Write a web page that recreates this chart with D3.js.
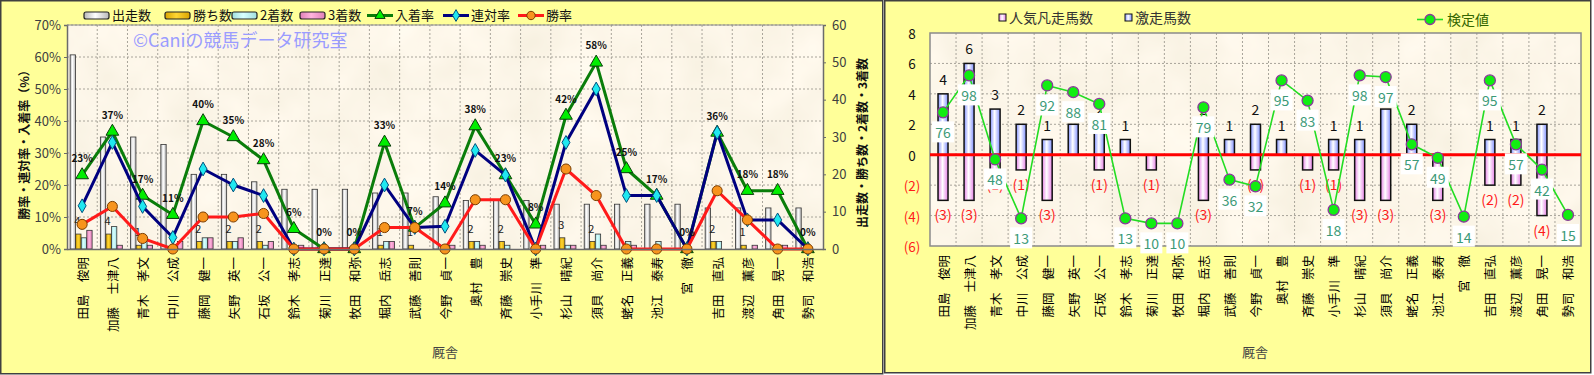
<!DOCTYPE html>
<html>
<head>
<meta charset="utf-8">
<script src="https://cdn.jsdelivr.net/npm/d3@7"></script>
<style>
	body { margin: 0; background: #fff; }
	svg text { font-family: "Noto Sans CJK JP", "Noto Sans", sans-serif; }
</style>
</head>
<body>
<div id="vizHolder"></div>
<script>
var trainers = ['田島　俊明','加藤　士津八','青木　孝文','中川　公成','藤岡　健一','矢野　英一','石坂　公一','鈴木　孝志','菊川　正達','牧田　和弥','堀内　岳志','武藤　善則','今野　貞一','奥村　豊','斉藤　崇史','小手川　準','杉山　晴紀','須貝　尚介','蛯名　正義','池江　泰寿','宮　徹','吉田　直弘','渡辺　薫彦','角田　晃一','勢司　和浩'];

// left chart: counts (right axis)
var starts  = [52,30,30,28,20,20,18,16,16,16,15,15,14,13,13,13,12,12,12,12,12,11,11,11,11];
var wins    = [4,4,1,0,2,2,2,0,0,0,1,1,0,2,2,0,3,2,0,0,0,2,1,0,0];
var seconds = [3,6,3,1,3,2,1,0,0,0,2,0,1,2,1,0,1,4,2,2,0,2,0,1,0];
var thirds  = [5,1,1,2,3,3,2,1,0,0,2,0,1,1,0,1,1,1,1,0,0,0,1,1,0];

// left chart: rates in % (left axis)
var winRate    = [7.7,13.3,3.3,0,10,10,11.1,0,0,0,6.7,6.7,0,15.4,15.4,0,25,16.7,0,0,0,18.2,9.1,0,0];
var rentaiRate = [13.5,33.3,13.3,3.6,25,20,16.7,0,0,0,20,6.7,7.1,30.8,23.1,0,33.3,50,16.7,16.7,0,36.4,9.1,9.1,0];
var placeRate  = [23.1,36.7,16.7,10.7,40,35,27.8,6.3,0,0,33.3,6.7,14.3,38.4,23.1,7.7,41.7,58.3,25,16.7,0,36.4,18.2,18.2,0];
var rateTicks  = [0,10,20,30,40,50,60,70];
var countTicks = [0,10,20,30,40,50,60];

// right chart
var gekisou = [4,6,3,2,1,2,2,1,0,0,2,1,2,1,0,1,1,3,2,0,0,1,1,2,0];
var bonsou  = [3,3,1,1,3,0,1,0,1,0,3,0,1,0,1,1,3,3,0,3,0,2,2,4,0];
var kentei  = [76,98,48,13,92,88,81,13,10,10,79,36,32,95,83,18,98,97,57,49,14,95,57,42,15];
var diffTicks = [-6,-4,-2,0,2,4,6,8];

var svg = d3.select('#vizHolder').append('svg')
	.attr('width', 1594)
	.attr('height', 375);

var defs = svg.append('defs');

function grad(id, c1, c2) {
	var g = defs.append('linearGradient').attr('id', id)
		.attr('x1', 0).attr('x2', 1).attr('y1', 0).attr('y2', 0);
	g.append('stop').attr('offset', '0%').attr('stop-color', c1);
	g.append('stop').attr('offset', '45%').attr('stop-color', c2);
	g.append('stop').attr('offset', '100%').attr('stop-color', c1);
}
grad('gWhite', '#b8b8b8', '#ffffff');
grad('gGold', '#d9a400', '#ffd633');
grad('gCyan', '#9fdede', '#d8ffff');
grad('gPink', '#e07fb8', '#ffb3dd');
grad('gBlue', '#7f8fff', '#ffffff');
grad('gPinkR', '#e680e6', '#ffffff');

//parchment look of the plot areas
var paper = defs.append('filter').attr('id', 'paper')
	.attr('x', 0).attr('y', 0).attr('width', 1).attr('height', 1);
paper.append('feTurbulence').attr('type', 'fractalNoise')
	.attr('baseFrequency', '0.018').attr('numOctaves', 3).attr('seed', 7);
paper.append('feColorMatrix').attr('type', 'matrix')
	.attr('values', '0.12 0 0 0 0.915  0.12 0 0 0 0.86  0.16 0 0 0 0.73  0 0 0 0 1');

// panels
svg.append('rect').attr('x', 0.75).attr('y', 0.75).attr('width', 882).attr('height', 373)
	.attr('fill', '#ffff99').attr('stroke', '#404040').attr('stroke-width', 1.5);
svg.append('rect').attr('x', 884.75).attr('y', 0.75).attr('width', 706).attr('height', 372)
	.attr('fill', '#ffff99').attr('stroke', '#404040').attr('stroke-width', 1.5);

function catLabels(g, x, top) {
	g.selectAll('text.cat')
		.data(trainers)
		.enter()
		.append('text')
		.attr('class', 'cat')
		.attr('transform', function(d) {
			return 'translate(' + (x(d) + x.bandwidth() / 2) + ',' + top + ') rotate(-90)';
		})
		.attr('text-anchor', 'end')
		.attr('dominant-baseline', 'central')
		.attr('font-size', 12.5)
		.attr('fill', '#000')
		.text(function(d) { return d; });
}

/* ---------------- left chart ---------------- */
var L = { x0: 67, x1: 823, y0: 25, y1: 249 };
var xL = d3.scaleBand().domain(trainers).range([L.x0, L.x1]);
var yL = d3.scaleLinear().domain([0, 70]).range([L.y1, L.y0]);
var yC = d3.scaleLinear().domain([0, 60]).range([L.y1, L.y0]);
var keys = ['starts', 'wins', 'seconds', 'thirds'];
var xSub = d3.scaleBand().domain(keys).range([-12, 10]).paddingInner(0.04);
var cxL = function(i) { return xL(trainers[i]) + xL.bandwidth() / 2; };

var left = svg.append('g');

left.append('rect').attr('x', L.x0).attr('y', L.y0)
	.attr('width', L.x1 - L.x0).attr('height', L.y1 - L.y0)
	.attr('filter', 'url(#paper)');

// grid
left.append('g').selectAll('line')
	.data(rateTicks.slice(1))
	.enter().append('line')
	.attr('x1', L.x0).attr('x2', L.x1)
	.attr('y1', function(d) { return yL(d); }).attr('y2', function(d) { return yL(d); })
	.attr('stroke', '#a8a49a').attr('stroke-dasharray', '2,2');
left.append('g').selectAll('line')
	.data(trainers.slice(1))
	.enter().append('line')
	.attr('x1', function(d) { return xL(d); }).attr('x2', function(d) { return xL(d); })
	.attr('y1', L.y0).attr('y2', L.y1)
	.attr('stroke', '#a8a49a').attr('stroke-dasharray', '2,2');

left.append('text')
	.attr('x', 133).attr('y', 47)
	.attr('font-size', 18).attr('fill', '#9a9cff')
	.text('©Caniの競馬データ研究室');

// count bars
var series = { starts: starts, wins: wins, seconds: seconds, thirds: thirds };
var fills = { starts: 'url(#gWhite)', wins: 'url(#gGold)', seconds: 'url(#gCyan)', thirds: 'url(#gPink)' };
keys.forEach(function(k) {
	left.append('g').selectAll('rect')
		.data(series[k])
		.enter().append('rect')
		.attr('x', function(d, i) { return cxL(i) + xSub(k); })
		.attr('width', xSub.bandwidth())
		.attr('y', function(d) { return yC(d); })
		.attr('height', function(d) { return yC(0) - yC(d); })
		.attr('fill', fills[k])
		.attr('stroke', function(d) { return d > 0 ? '#333' : 'none'; })
		.attr('stroke-width', 0.8);
});

// win count labels
left.append('g').selectAll('text')
	.data(wins.map(function(d, i) { return { v: d, i: i }; }).filter(function(d) { return d.v > 0; }))
	.enter().append('text')
	.attr('x', function(d) { return cxL(d.i) + xSub('wins') + xSub.bandwidth() / 2 - 1; })
	.attr('y', function(d) { return yC(d.v) - 9; })
	.attr('text-anchor', 'middle')
	.attr('font-size', 11).attr('fill', '#222')
	.text(function(d) { return d.v; });

// rate lines
function rateSeries(vals, color, shape, fill, stroke, size) {
	var line = d3.line()
		.x(function(d, i) { return cxL(i); })
		.y(function(d) { return yL(d); });
	left.append('path').datum(vals)
		.attr('d', line).attr('fill', 'none')
		.attr('stroke', color).attr('stroke-width', 3)
		.attr('stroke-linejoin', 'round');
	left.append('g').selectAll('path')
		.data(vals)
		.enter().append('path')
		.attr('d', d3.symbol().type(shape).size(size))
		.attr('transform', function(d, i) { return 'translate(' + cxL(i) + ',' + yL(d) + ')'; })
		.attr('fill', fill).attr('stroke', stroke).attr('stroke-width', 1);
}
rateSeries(placeRate, '#0a7d0a', d3.symbolTriangle, '#00ee00', '#0b3d0b', 70);
rateSeries(rentaiRate, '#00007f', d3.symbolDiamond, '#20e8f0', '#00507f', 55);
rateSeries(winRate, '#ff1a1a', d3.symbolCircle, '#f7941d', '#7a3d00', 80);

left.append('g').selectAll('text')
	.data(placeRate)
	.enter().append('text')
	.attr('x', function(d, i) { return cxL(i); })
	.attr('y', function(d) { return yL(d) - 13; })
	.attr('text-anchor', 'middle')
	.attr('font-size', 10).attr('font-weight', 'bold').attr('fill', '#111')
	.text(function(d) { return Math.round(d) + '%'; });

// axes
var axL = left.append('g').attr('transform', 'translate(' + L.x0 + ',0)')
	.call(d3.axisLeft(yL).tickValues(rateTicks).tickSize(3).tickFormat(function(d) { return d + '%'; }));
var axR = left.append('g').attr('transform', 'translate(' + L.x1 + ',0)')
	.call(d3.axisRight(yC).tickValues(countTicks).tickSize(3).tickPadding(6));
var axB = left.append('g').attr('transform', 'translate(0,' + L.y1 + ')')
	.call(d3.axisBottom(xL).tickSize(0).tickFormat(''));
[axL, axR, axB].forEach(function(a) {
	a.select('.domain').attr('stroke', '#6b6b6b').attr('stroke-width', 1.5);
	a.selectAll('.tick line').attr('stroke', '#6b6b6b');
	a.selectAll('.tick text').attr('font-size', 13).attr('fill', '#404040')
		.attr('font-family', '"Noto Sans CJK JP", sans-serif');
});
left.append('line').attr('x1', L.x0).attr('x2', L.x1).attr('y1', L.y0).attr('y2', L.y0)
	.attr('stroke', '#8a8a8a');

catLabels(left, xL, 257);

left.append('text')
	.attr('transform', 'translate(23,142) rotate(-90)')
	.attr('text-anchor', 'middle').attr('dominant-baseline', 'central')
	.attr('font-size', 12).attr('font-weight', 'bold').attr('fill', '#111')
	.text('勝率・連対率・入着率（%）');
left.append('text')
	.attr('transform', 'translate(861,143) rotate(-90)')
	.attr('text-anchor', 'middle').attr('dominant-baseline', 'central')
	.attr('font-size', 12).attr('font-weight', 'bold').attr('fill', '#111')
	.text('出走数・勝ち数・2着数・3着数');
left.append('text')
	.attr('x', 445).attr('y', 357).attr('text-anchor', 'middle')
	.attr('font-size', 13).attr('fill', '#444').text('厩舎');

// left legend
var legL = left.append('g').attr('font-size', 13).attr('fill', '#111');
var barLeg = [
	{ name: '出走数', fill: 'url(#gWhite)', x: 84 },
	{ name: '勝ち数', fill: 'url(#gGold)', x: 165 },
	{ name: '2着数', fill: 'url(#gCyan)', x: 232 },
	{ name: '3着数', fill: 'url(#gPink)', x: 300 }
];
barLeg.forEach(function(b) {
	legL.append('rect').attr('x', b.x).attr('y', 12).attr('width', 25).attr('height', 7).attr('rx', 2)
		.attr('fill', b.fill).attr('stroke', '#222').attr('stroke-width', 1.2);
	legL.append('text').attr('x', b.x + 28).attr('y', 20).text(b.name);
});
var lineLeg = [
	{ name: '入着率', color: '#0a7d0a', shape: d3.symbolTriangle, fill: '#00ee00', stroke: '#0b3d0b', x: 367, size: 45 },
	{ name: '連対率', color: '#00007f', shape: d3.symbolDiamond, fill: '#20e8f0', stroke: '#00507f', x: 443, size: 40 },
	{ name: '勝率', color: '#ff1a1a', shape: d3.symbolCircle, fill: '#f7941d', stroke: '#7a3d00', x: 518, size: 55 }
];
lineLeg.forEach(function(b) {
	legL.append('line').attr('x1', b.x).attr('x2', b.x + 26).attr('y1', 15.5).attr('y2', 15.5)
		.attr('stroke', b.color).attr('stroke-width', 3);
	legL.append('path').attr('d', d3.symbol().type(b.shape).size(b.size))
		.attr('transform', 'translate(' + (b.x + 13) + ',15.5)')
		.attr('fill', b.fill).attr('stroke', b.stroke);
	legL.append('text').attr('x', b.x + 28).attr('y', 20).text(b.name);
});

/* ---------------- right chart ---------------- */
var R = { x0: 930, x1: 1581, y0: 33, y1: 246 };
var xR = d3.scaleBand().domain(trainers).range([R.x0, R.x1]);
var yR = d3.scaleLinear().domain([-6, 8]).range([R.y1, R.y0]);
var yK = d3.scaleLinear().domain([0, 100]).range([240.2, 72]);
var cxR = function(i) { return xR(trainers[i]) + xR.bandwidth() / 2; };
var bw = 10;

var right = svg.append('g');
right.append('rect').attr('x', R.x0).attr('y', R.y0)
	.attr('width', R.x1 - R.x0).attr('height', R.y1 - R.y0)
	.attr('filter', 'url(#paper)');
right.append('g').selectAll('line')
	.data(diffTicks.filter(function(d) { return d !== 0 && d !== -6 && d !== 8; }))
	.enter().append('line')
	.attr('x1', R.x0).attr('x2', R.x1)
	.attr('y1', function(d) { return yR(d); }).attr('y2', function(d) { return yR(d); })
	.attr('stroke', '#a8a49a').attr('stroke-dasharray', '2,2');
right.append('g').selectAll('line')
	.data(trainers.slice(1))
	.enter().append('line')
	.attr('x1', function(d) { return xR(d); }).attr('x2', function(d) { return xR(d); })
	.attr('y1', R.y0).attr('y2', R.y1)
	.attr('stroke', '#a8a49a').attr('stroke-dasharray', '2,2');
right.append('rect').attr('x', R.x0).attr('y', R.y0)
	.attr('width', R.x1 - R.x0).attr('height', R.y1 - R.y0)
	.attr('fill', 'none').attr('stroke', '#8a8a8a').attr('stroke-width', 1.5);

right.append('g').selectAll('rect')
	.data(gekisou)
	.enter().append('rect')
	.attr('x', function(d, i) { return cxR(i) - bw / 2; })
	.attr('width', bw)
	.attr('y', function(d) { return yR(d); })
	.attr('height', function(d) { return yR(0) - yR(d); })
	.attr('fill', 'url(#gBlue)')
	.attr('stroke', function(d) { return d > 0 ? '#111' : 'none'; })
	.attr('stroke-width', 1.5);
right.append('g').selectAll('rect')
	.data(bonsou)
	.enter().append('rect')
	.attr('x', function(d, i) { return cxR(i) - bw / 2; })
	.attr('width', bw)
	.attr('y', yR(0))
	.attr('height', function(d) { return yR(-d) - yR(0); })
	.attr('fill', 'url(#gPinkR)')
	.attr('stroke', function(d) { return d > 0 ? '#111' : 'none'; })
	.attr('stroke-width', 1.5);

right.append('line').attr('x1', R.x0).attr('x2', R.x1)
	.attr('y1', yR(0)).attr('y2', yR(0))
	.attr('stroke', '#ff0000').attr('stroke-width', 3);

right.append('g').selectAll('text')
	.data(gekisou)
	.enter().append('text')
	.attr('x', function(d, i) { return cxR(i); })
	.attr('y', function(d) { return yR(d) - 9; })
	.attr('text-anchor', 'middle').attr('font-size', 14).attr('fill', '#111')
	.text(function(d) { return d > 0 ? d : ''; });
right.append('g').selectAll('text')
	.data(bonsou)
	.enter().append('text')
	.attr('x', function(d, i) { return cxR(i); })
	.attr('y', function(d) { return yR(-d) + 20; })
	.attr('text-anchor', 'middle').attr('font-size', 14).attr('fill', '#ff1a1a')
	.text(function(d) { return d > 0 ? '(' + d + ')' : ''; });

var kLine = d3.line()
	.x(function(d, i) { return cxR(i); })
	.y(function(d) { return yK(d); });
right.append('path').datum(kentei)
	.attr('d', kLine).attr('fill', 'none')
	.attr('stroke', '#22dd22').attr('stroke-width', 1.6);
right.append('g').selectAll('circle')
	.data(kentei)
	.enter().append('circle')
	.attr('cx', function(d, i) { return cxR(i); })
	.attr('cy', function(d) { return yK(d); })
	.attr('r', 5.5)
	.attr('fill', '#11ee11').attr('stroke', '#8a3a9a').attr('stroke-width', 1.3);
var kLab = right.append('g').selectAll('g')
	.data(kentei)
	.enter().append('g')
	.attr('transform', function(d, i) { return 'translate(' + cxR(i) + ',' + (yK(d) + 20) + ')'; });
kLab.append('rect').attr('x', -11).attr('y', -11).attr('width', 22).attr('height', 21)
	.attr('fill', '#fff');
kLab.append('text').attr('text-anchor', 'middle').attr('dominant-baseline', 'central')
	.attr('font-size', 14).attr('fill', '#3c9a78')
	.text(function(d) { return d; });

right.append('g').selectAll('text')
	.data(diffTicks)
	.enter().append('text')
	.attr('x', 912)
	.attr('y', function(d) { return yR(d); })
	.attr('text-anchor', 'middle').attr('dominant-baseline', 'central')
	.attr('font-size', 13.5)
	.attr('fill', function(d) { return d < 0 ? '#ff1a1a' : '#111'; })
	.text(function(d) { return d < 0 ? '(' + (-d) + ')' : d; });

catLabels(right, xR, 255);
right.append('text')
	.attr('x', 1255).attr('y', 357).attr('text-anchor', 'middle')
	.attr('font-size', 13).attr('fill', '#444').text('厩舎');

// right legend
var legR = right.append('g').attr('font-size', 14).attr('fill', '#333');
legR.append('rect').attr('x', 999).attr('y', 14).attr('width', 7).attr('height', 7)
	.attr('fill', 'url(#gPinkR)').attr('stroke', '#111');
legR.append('text').attr('x', 1009).attr('y', 23).text('人気凡走馬数');
legR.append('rect').attr('x', 1125).attr('y', 14).attr('width', 7).attr('height', 7)
	.attr('fill', 'url(#gBlue)').attr('stroke', '#111');
legR.append('text').attr('x', 1135).attr('y', 23).text('激走馬数');
legR.append('line').attr('x1', 1417).attr('x2', 1443).attr('y1', 19.5).attr('y2', 19.5)
	.attr('stroke', '#22dd22').attr('stroke-width', 1.6);
legR.append('circle').attr('cx', 1430).attr('cy', 19.5).attr('r', 5)
	.attr('fill', '#11ee11').attr('stroke', '#8a3a9a').attr('stroke-width', 1.3);
legR.append('text').attr('x', 1447).attr('y', 25).attr('fill', '#336600').text('検定値');
</script>
</body>
</html>
